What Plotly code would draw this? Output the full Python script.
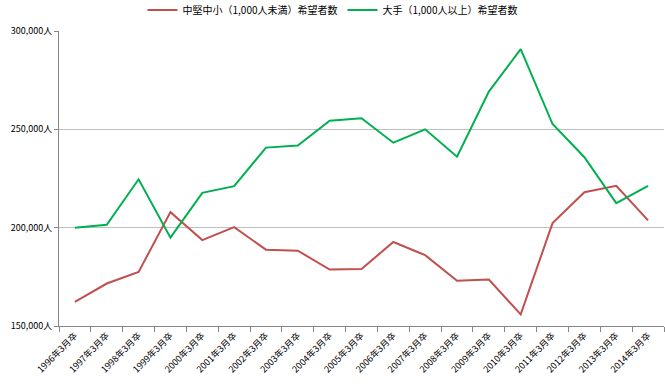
import plotly.graph_objects as go

categories = [f"{y}年3月卒" for y in range(1996, 2015)]
sme_values = [162300, 171600, 177500, 207900, 193700, 200300, 188800, 188300, 178700, 179000,
              192700, 186000, 173000, 173600, 155900, 202300, 218000, 221300, 203700]
large_values = [199900, 201500, 224600, 194900, 217700, 221100, 240700, 241800, 254400, 255600,
                243200, 250000, 236100, 269200, 290800, 252700, 235800, 212500, 221300]
series_names = ["中堅中小（1,000人未満）希望者数", "大手（1,000人以上）希望者数"]
y_ticks = [150000, 200000, 250000, 300000]

FONT = "Noto Sans CJK JP, Noto Sans, sans-serif"

fig = go.Figure()
fig.add_trace(go.Scatter(x=categories, y=sme_values, mode="lines", name=series_names[0],
                         line=dict(color="#C0504D", width=2)))
fig.add_trace(go.Scatter(x=categories, y=large_values, mode="lines", name=series_names[1],
                         line=dict(color="#00B050", width=2)))

fig.update_layout(
    width=665, height=391,
    margin=dict(l=59, r=1, t=31, b=65, autoexpand=False),
    paper_bgcolor="white", plot_bgcolor="white",
    font=dict(family=FONT, size=10, color="#000000"),
    showlegend=True,
    legend=dict(orientation="h", x=0.5, xanchor="center", xref="container",
                y=1.071, yanchor="middle", yref="paper",
                font=dict(size=10), itemwidth=30,
                tracegroupgap=0, bgcolor="rgba(0,0,0,0)"),
    xaxis=dict(type="category", tickson="boundaries", ticks="outside", ticklen=5,
               tickcolor="#868686", showline=True, linecolor="#868686", linewidth=1,
               showgrid=False, tickangle=-45, tickfont=dict(size=9), range=[-0.5, 18.5],
               automargin=False),
    yaxis=dict(range=[150000, 300000], tickvals=y_ticks,
               ticktext=[f"{v:,}人" for v in y_ticks], ticks="outside", ticklen=4,
               tickcolor="#868686", showline=True, linecolor="#868686", linewidth=1,
               showgrid=True, gridcolor="#BFBFBF", gridwidth=1, zeroline=False,
               tickfont=dict(size=9), automargin=False),
)

fig.write_html("out.html", config={"displayModeBar": False},
               post_script="document.body.style.margin='0';")
